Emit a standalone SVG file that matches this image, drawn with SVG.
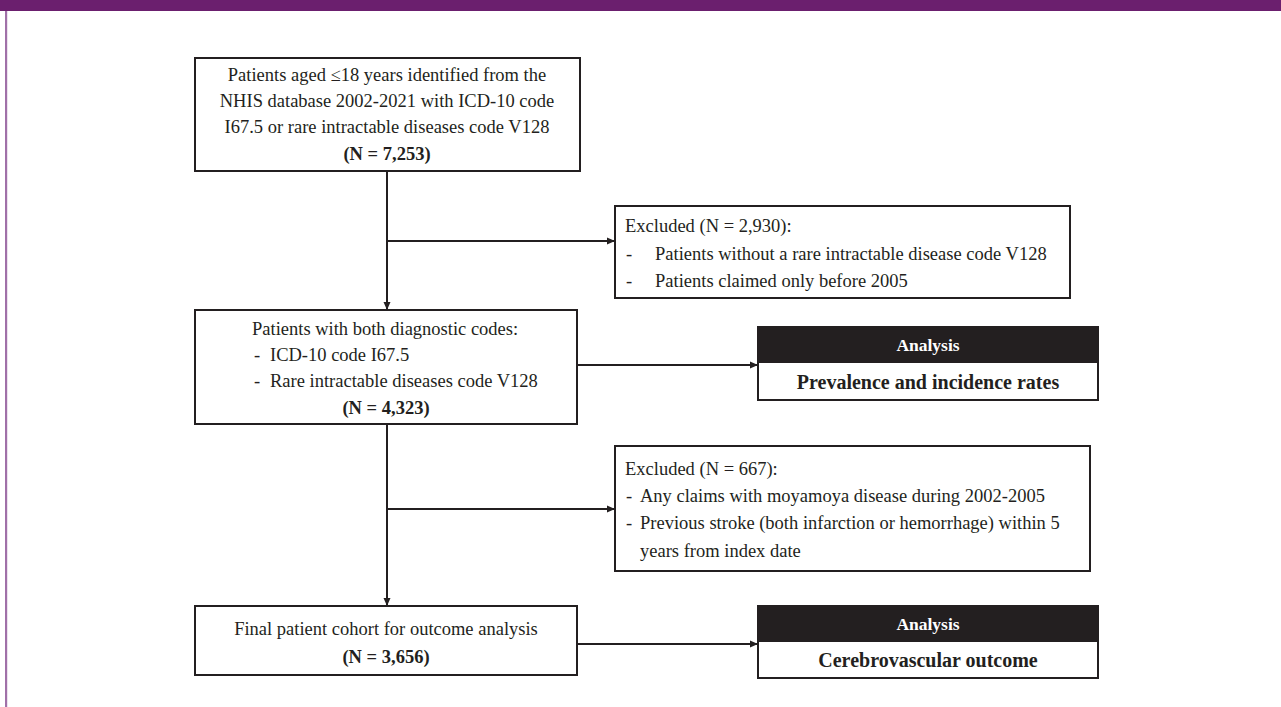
<svg xmlns="http://www.w3.org/2000/svg" width="1281" height="707" viewBox="0 0 1281 707">
<defs>
<style>
.box{fill:#fff;stroke:#231F20;stroke-width:2}
.t{font-family:"Liberation Serif","Times New Roman",serif;font-size:18.5px;fill:#231F20}
.c{text-anchor:middle}
.b{font-weight:bold}
.hd{fill:#231F20}
.ht{font-family:"Liberation Serif","Times New Roman",serif;font-size:17.5px;font-weight:bold;fill:#fff;text-anchor:middle}
.big{font-family:"Liberation Serif","Times New Roman",serif;font-size:20px;font-weight:bold;fill:#231F20;text-anchor:middle}
.ln{stroke:#231F20;stroke-width:2;fill:none}
</style>
<marker id="ar" markerWidth="8" markerHeight="8" refX="7" refY="4" orient="auto" markerUnits="userSpaceOnUse">
<path d="M0,0.5 L8,4 L0,7.5 Z" fill="#231F20"/>
</marker>
</defs>
<rect x="0" y="0" width="1281" height="707" fill="#fff"/>
<rect x="0" y="0" width="1281" height="11" fill="#6B1F6E"/>
<rect x="5" y="11" width="2.2" height="696" fill="#A070A8"/>

<g id="connectors">
<line class="ln" x1="387" y1="171" x2="387" y2="309" marker-end="url(#ar)"/>
<line class="ln" x1="387" y1="241" x2="614" y2="241" marker-end="url(#ar)"/>
<line class="ln" x1="577" y1="365" x2="757" y2="365" marker-end="url(#ar)"/>
<line class="ln" x1="387" y1="424" x2="387" y2="605" marker-end="url(#ar)"/>
<line class="ln" x1="387" y1="509" x2="614" y2="509" marker-end="url(#ar)"/>
<line class="ln" x1="577" y1="644" x2="757" y2="644" marker-end="url(#ar)"/>
</g>

<g id="n1">
<rect class="box" x="195" y="58" width="385" height="113"/>
<text class="t c" x="387" y="81">Patients aged ≤18 years identified from the</text>
<text class="t c" x="387" y="107">NHIS database 2002-2021 with ICD-10 code</text>
<text class="t c" x="387" y="133">I67.5 or rare intractable diseases code V128</text>
<text class="t c b" x="387" y="160">(N = 7,253)</text>
</g>

<g id="ex1">
<rect class="box" x="615" y="206" width="455" height="92"/>
<text class="t" x="625" y="232">Excluded (N = 2,930):</text>
<text class="t" x="626" y="260">-</text>
<text class="t" x="655" y="260">Patients without a rare intractable disease code V128</text>
<text class="t" x="626" y="287">-</text>
<text class="t" x="655" y="287">Patients claimed only before 2005</text>
</g>

<g id="n2">
<rect class="box" x="195" y="310" width="382" height="114"/>
<text class="t" x="252" y="335">Patients with both diagnostic codes:</text>
<text class="t" x="254" y="361">-</text>
<text class="t" x="270" y="361">ICD-10 code I67.5</text>
<text class="t" x="254" y="387">-</text>
<text class="t" x="270" y="387">Rare intractable diseases code V128</text>
<text class="t c b" x="386" y="414">(N = 4,323)</text>
</g>

<g id="an1">
<rect class="box" x="758" y="327" width="340" height="73"/>
<rect class="hd" x="758" y="327" width="340" height="36"/>
<text class="ht" x="928" y="351">Analysis</text>
<text class="big" x="928" y="389">Prevalence and incidence rates</text>
</g>

<g id="ex2">
<rect class="box" x="615" y="446" width="475" height="125"/>
<text class="t" x="625" y="475">Excluded (N = 667):</text>
<text class="t" x="626" y="502">-</text>
<text class="t" x="640" y="502">Any claims with moyamoya disease during 2002-2005</text>
<text class="t" x="626" y="529">-</text>
<text class="t" x="640" y="529">Previous stroke (both infarction or hemorrhage) within 5</text>
<text class="t" x="640" y="557">years from index date</text>
</g>

<g id="n3">
<rect class="box" x="195" y="606" width="382" height="69"/>
<text class="t c" x="386" y="635">Final patient cohort for outcome analysis</text>
<text class="t c b" x="386" y="663">(N = 3,656)</text>
</g>

<g id="an2">
<rect class="box" x="758" y="606" width="340" height="72"/>
<rect class="hd" x="758" y="606" width="340" height="36"/>
<text class="ht" x="928" y="630">Analysis</text>
<text class="big" x="928" y="667">Cerebrovascular outcome</text>
</g>
</svg>
